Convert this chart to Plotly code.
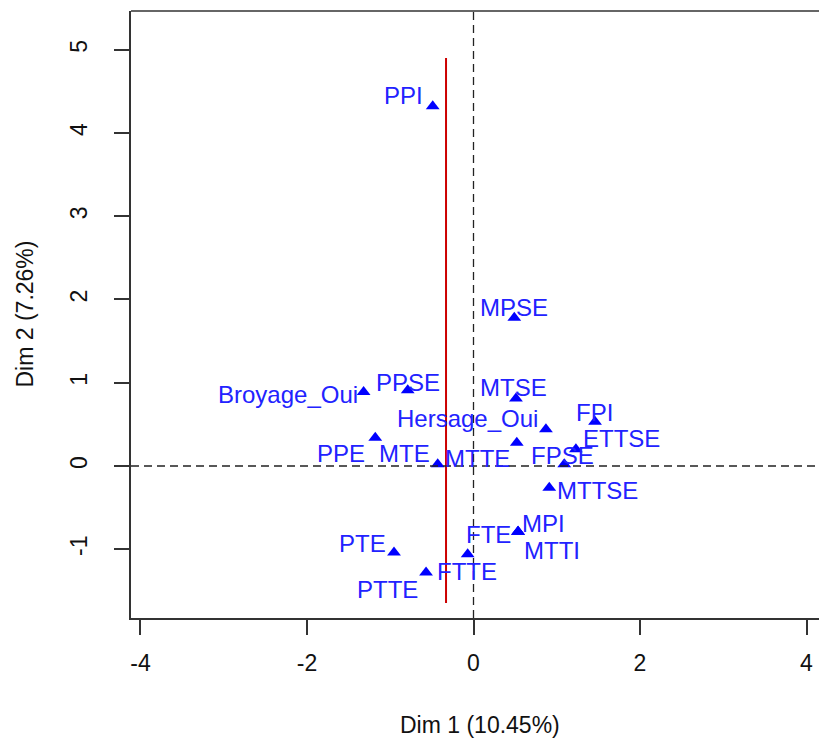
import plotly.graph_objects as go

# ---- data ----
labels = ["PPI", "MPSE", "PPSE", "Broyage_Oui", "MTSE", "Hersage_Oui", "PPE",
          "MTTE", "MTE", "FPI", "ETTSE", "FPSE", "MTTSE", "MPI", "MTTI", "FTE",
          "FTTE", "PTE", "PTTE"]
dim1 = [-0.49, 0.49, -0.79, -1.32, 0.51, 0.87, -1.18,
        0.52, -0.43, 1.46, 1.23, 1.09, 0.91, 0.535, 0.535, 0.535,
        -0.07, -0.955, -0.57]
dim2 = [4.32, 1.78, 0.91, 0.89, 0.81, 0.44, 0.34,
        0.28, 0.02, 0.53, 0.20, 0.02, -0.26, -0.79, -0.79, -0.79,
        -1.06, -1.04, -1.28]

seg_x = -0.33
seg_y = [-1.645, 4.90]

x_ticks = [-4, -2, 0, 2, 4]
x_tick_text = ["-4", "-2", "0", "2", "4"]
y_ticks = [-1, 0, 1, 2, 3, 4, 5]
y_tick_text = ["-1", "0", "1", "2", "3", "4", "5"]

x_title = "Dim 1 (10.45%)"
y_title = "Dim 2 (7.26%)"

# ---- label placement (style: anchor, x shift px, y shift px) ----
label_pos = {
    "PPI": ("right", -8, 11),
    "MPSE": ("center", 0, 10),
    "PPSE": ("center", 0, 8),
    "Broyage_Oui": ("right", -4, -3),
    "MTSE": ("center", -2, 11),
    "Hersage_Oui": ("right", -6, 11),
    "PPE": ("right", -8, -16),
    "MTTE": ("right", -5, -16),
    "MTE": ("right", -6, 11),
    "FPI": ("center", -1, 9),
    "ETTSE": ("left", 5, 11),
    "FPSE": ("center", -2, 9),
    "MTTSE": ("left", 6, -3),
    "MPI": ("left", 2, 8),
    "MTTI": ("left", 4, -19),
    "FTE": ("right", -5, -3),
    "FTTE": ("center", -1, -17),
    "PTE": ("right", -6, 9),
    "PTTE": ("right", -6, -17),
}

FONT = "Liberation Sans, Arial, sans-serif"
AX = "#333333"

fig = go.Figure()

fig.add_trace(go.Scatter(
    x=dim1, y=dim2, mode="markers",
    marker=dict(symbol="triangle-up", size=12, color="#0000FF",
                line=dict(width=0)),
    hoverinfo="text", text=labels, showlegend=False,
))

fig.add_trace(go.Scatter(
    x=[seg_x, seg_x], y=seg_y, mode="lines",
    line=dict(color="#CC0000", width=2), showlegend=False, hoverinfo="skip",
))

annotations = []
for lab, xv, yv in zip(labels, dim1, dim2):
    anc, dx, dy = label_pos[lab]
    annotations.append(dict(
        x=xv, y=yv, xref="x", yref="y", text=lab, showarrow=False,
        xanchor=anc, yanchor="middle", xshift=dx, yshift=dy,
        font=dict(family=FONT, size=24, color="#2222FF"),
    ))

annotations.append(dict(
    x=(480 - 131) / 688, y=0, xref="paper", yref="paper", text=x_title,
    showarrow=False, xanchor="center", yanchor="middle", yshift=-(725 - 617.7),
    font=dict(family=FONT, size=23, color="#111111"),
))
annotations.append(dict(
    x=-(131 - 24) / 688, y=0.5, xref="paper", yref="paper", text=y_title,
    showarrow=False, xanchor="center", yanchor="middle", textangle=-90,
    font=dict(family=FONT, size=23, color="#111111"),
))

shapes = [
    # top border of box
    dict(type="line", xref="paper", yref="paper", x0=0, x1=1, y0=1, y1=1,
         line=dict(color=AX, width=1.5)),
    # dashed reference lines
    dict(type="line", xref="x", yref="paper", x0=0, x1=0, y0=0, y1=1,
         line=dict(color="#222222", width=1.3, dash="8px,5px")),
    dict(type="line", xref="paper", yref="y", x0=0, x1=1, y0=0, y1=0,
         line=dict(color="#222222", width=1.3, dash="8px,5px")),
]

fig.update_layout(
    width=819, height=744,
    margin=dict(l=131, r=0, t=11, b=126),
    paper_bgcolor="white", plot_bgcolor="white",
    annotations=annotations, shapes=shapes,
    xaxis=dict(range=[-4.114, 4.150], tickvals=x_ticks, ticktext=x_tick_text,
               showgrid=False, zeroline=False, showline=True, linecolor=AX,
               linewidth=1.5, ticks="outside", ticklen=15, tickwidth=1.5,
               tickcolor=AX, ticklabelstandoff=9,
               tickfont=dict(family=FONT, size=23, color="#111111")),
    yaxis=dict(range=[-1.826, 5.465], tickvals=y_ticks, ticktext=y_tick_text,
               showgrid=False, zeroline=False, showline=True, linecolor=AX,
               linewidth=1.5, ticks="outside", ticklen=15, tickwidth=1.5,
               tickcolor=AX, tickangle=-90, ticklabelstandoff=18,
               tickfont=dict(family=FONT, size=23, color="#111111")),
)

fig.write_html("out.html")
